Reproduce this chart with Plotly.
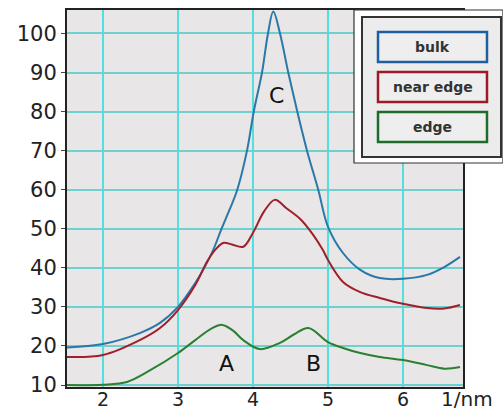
import plotly.graph_objects as go

# ---- data ----
bulk_x = [1.52, 2.0, 2.49, 2.76, 3.0, 3.23, 3.35, 3.47, 3.58, 3.69, 3.79, 3.92, 4.01, 4.12, 4.2, 4.27, 4.36, 4.47, 4.59, 4.72, 4.87, 5.0, 5.2, 5.43, 5.69, 6.0, 6.32, 6.55, 6.76]
bulk_y = [19.6, 20.5, 23.3, 25.9, 30, 36.1, 40, 44.6, 50, 55, 60, 70, 80, 90, 100, 105.6, 100, 90, 80, 70, 60, 50.5, 43.8, 39.5, 37.4, 37.2, 38.2, 40.2, 42.8]

near_x = [1.52, 2.0, 2.49, 2.76, 3.0, 3.23, 3.4, 3.52, 3.61, 3.72, 3.87, 4.0, 4.15, 4.29, 4.45, 4.63, 4.8, 4.93, 5.0, 5.2, 5.43, 5.69, 6.0, 6.32, 6.55, 6.76]
near_y = [17.2, 17.7, 21.5, 24.6, 29.2, 35.6, 42, 45.1, 46.4, 46, 45.4, 49, 54.5, 57.4, 55.2, 52.5, 48.5, 44.6, 42, 36.4, 33.8, 32.3, 30.8, 29.7, 29.6, 30.5]

edge_x = [1.52, 2.0, 2.32, 2.63, 3.0, 3.23, 3.45, 3.59, 3.73, 3.87, 4.09, 4.36, 4.55, 4.74, 5.0, 5.2, 5.43, 5.69, 6.0, 6.32, 6.55, 6.76]
edge_y = [10, 10.1, 10.8, 13.8, 18.2, 21.5, 24.5, 25.4, 24, 21.5, 19.2, 20.8, 23, 24.6, 21, 19.5, 18.2, 17.2, 16.4, 15.1, 14.2, 14.6]

series_names = ["bulk", "near edge", "edge"]
series_colors = ["#2a78a8", "#a01f2a", "#2a8030"]
legend_border = ["#1f5f9f", "#9b1b25", "#1e6b2a"]

x_ticks = [2, 3, 4, 5, 6]
y_ticks = [10, 20, 30, 40, 50, 60, 70, 80, 90, 100]
x_unit = "1/nm"

peak_labels = ["A", "B", "C"]
peak_label_x = [3.65, 4.8, 4.31]
peak_label_y = [15.6, 15.6, 84]

# ---- layout geometry (pixels) ----
W, H = 503, 414
L, R, T, B = 67, 40, 10, 27
PW, PH = W - L - R, H - T - B


def px(xp):
    return (xp - L) / PW


def py(yp):
    return (H - B - yp) / PH


fig = go.Figure()
for xs, ys, name, col in zip([bulk_x, near_x, edge_x], [bulk_y, near_y, edge_y], series_names, series_colors):
    fig.add_trace(go.Scatter(x=xs, y=ys, mode="lines", name=name,
                             line=dict(color=col, width=2, shape="spline", smoothing=1.0)))

for lab, lx, ly in zip(peak_labels, peak_label_x, peak_label_y):
    fig.add_annotation(x=lx, y=ly, text=lab, showarrow=False, xanchor="center", yanchor="middle",
                       font=dict(family="DejaVu Sans", size=22, color="#111111"))

shapes = []
# outer white legend panel
shapes.append(dict(type="rect", xref="paper", yref="paper", x0=px(354), x1=px(503), y0=py(163), y1=py(10),
                   fillcolor="white", line=dict(color="#333333", width=1.2), layer="above"))
# inner legend box
shapes.append(dict(type="rect", xref="paper", yref="paper", x0=px(362), x1=px(501), y0=py(157), y1=py(17),
                   fillcolor="#ececec", line=dict(color="#333333", width=2), layer="above"))
item_tops = [32, 72, 112]
for i, (name, bc) in enumerate(zip(series_names, legend_border)):
    t0 = item_tops[i]
    shapes.append(dict(type="rect", xref="paper", yref="paper", x0=px(378), x1=px(487), y0=py(t0 + 30), y1=py(t0),
                       fillcolor="#eeeeee", line=dict(color=bc, width=2.5), layer="above"))
    fig.add_annotation(xref="paper", yref="paper", x=px(432.5), y=py(t0 + 15), text="<b>" + name + "</b>",
                       showarrow=False, xanchor="center", yanchor="middle",
                       font=dict(family="DejaVu Sans", size=14, color="#333333"))

fig.add_annotation(xref="paper", yref="paper", x=px(467), y=py(399), text=x_unit, showarrow=False,
                   xanchor="center", yanchor="middle",
                   font=dict(family="DejaVu Sans", size=20, color="#222222"))

fig.update_layout(
    width=W, height=H, margin=dict(l=L, r=R, t=T, b=B, autoexpand=False),
    paper_bgcolor="white", plot_bgcolor="#e8e6e6",
    showlegend=False, shapes=shapes,
    font=dict(family="DejaVu Sans", size=20, color="#222222"),
)
fig.update_xaxes(range=[1.52, 6.8], tickvals=x_ticks, showgrid=True, gridcolor="#55dede", gridwidth=1.5,
                 zeroline=False, showline=True, linecolor="#222222", linewidth=2, mirror=True, automargin=False,
                 ticks="", tickfont=dict(size=19), ticklabelstandoff=-6)
fig.update_yaxes(range=[9.5, 106], tickvals=y_ticks, showgrid=True, gridcolor="#6fd0d0", gridwidth=1.5,
                 zeroline=False, showline=True, linecolor="#222222", linewidth=2, mirror=True, automargin=False,
                 ticks="outside", ticklen=4, tickcolor="#444444", tickfont=dict(size=21))

fig.write_html("out.html")
